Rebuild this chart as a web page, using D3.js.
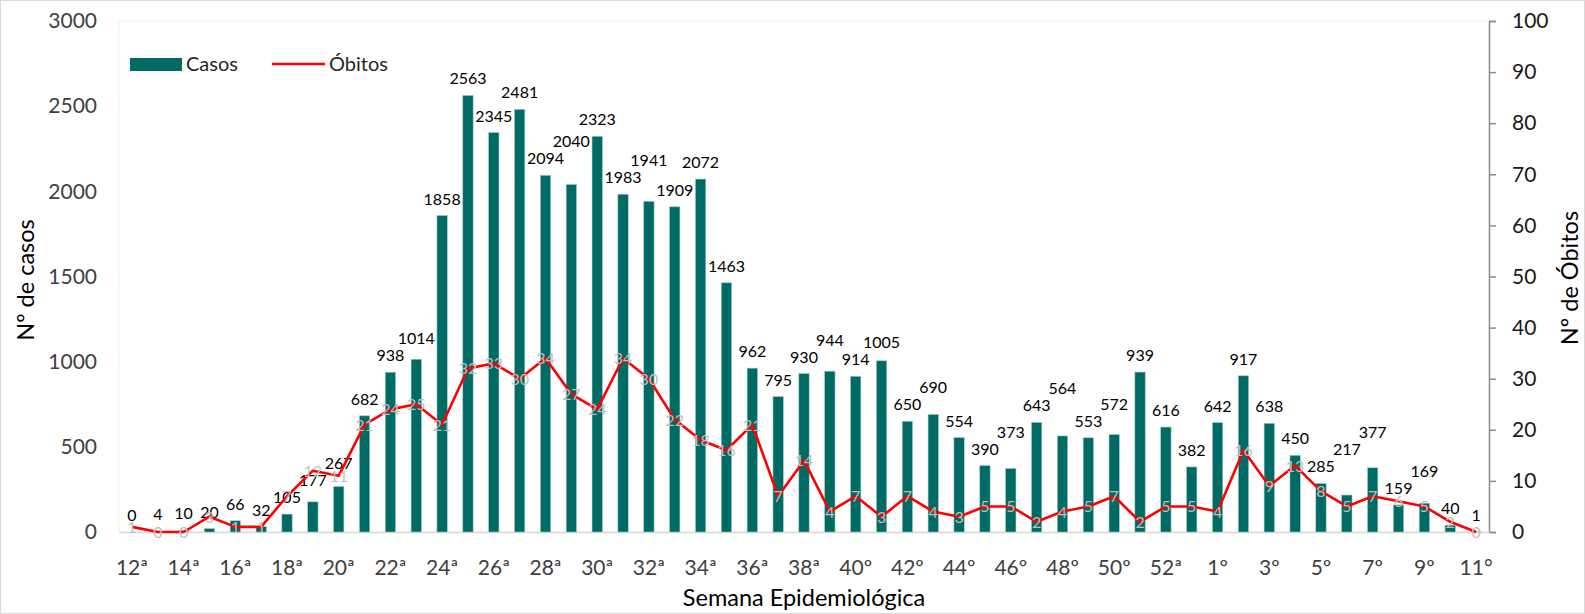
<!DOCTYPE html>
<html>
<head>
<meta charset="utf-8">
<script src="https://cdn.jsdelivr.net/npm/d3@7"></script>
<style>
  body { margin: 0; background: #fff; }
  text { font-family: Lato, "Noto Sans", sans-serif; }
</style>
</head>
<body>
<div id="chartbox"></div>
<script>
const semanas = ['12ª','13ª','14ª','15ª','16ª','17ª','18ª','19ª','20ª','21ª','22ª','23ª','24ª','25ª','26ª','27ª','28ª','29ª','30ª','31ª','32ª','33ª','34ª','35ª','36ª','37ª','38ª','39ª','40º','41º','42º','43º','44º','45º','46º','47º','48º','49º','50º','51º','52ª','53ª','1º','2º','3º','4º','5º','6º','7º','8º','9º','10º','11°']
const casos = [0,4,10,20,66,32,105,177,267,682,938,1014,1858,2563,2345,2481,2094,2040,2323,1983,1941,1909,2072,1463,962,795,930,944,914,1005,650,690,554,390,373,643,564,553,572,939,616,382,642,917,638,450,285,217,377,159,169,40,1]
const obitos = [1,0,0,3,1,1,7,12,11,21,24,25,21,32,33,30,34,27,24,34,30,22,18,16,21,7,14,4,7,3,7,4,3,5,5,2,4,5,7,2,5,5,4,16,9,13,8,5,7,6,5,2,0]
const casosTicks = [0,500,1000,1500,2000,2500,3000]
const obitosTicks = [0,10,20,30,40,50,60,70,80,90,100]

const W = 1585, H = 614
const pLeft = 119, pRight = 1489, pTop = 21, pBottom = 532

const svg = d3.select('#chartbox')
  .append('svg')
  .attr('width', W)
  .attr('height', H)

svg.append('rect')
  .attr('x', 0.5).attr('y', 0.5)
  .attr('width', W - 1).attr('height', H - 1)
  .attr('fill', '#fff')
  .attr('stroke', '#d9d9d9')

// plot area border
svg.append('rect')
  .attr('x', pLeft).attr('y', pTop)
  .attr('width', pRight - pLeft).attr('height', pBottom - pTop)
  .attr('fill', 'none')
  .attr('stroke', '#f0f0f0')

const x = d3.scaleBand()
  .domain(semanas)
  .range([pLeft, pRight])
  .paddingInner(0.6)
  .paddingOuter(0.3)

const y = d3.scaleLinear().domain([0, 3000]).range([pBottom, pTop])
const y2 = d3.scaleLinear().domain([0, 100]).range([pBottom, pTop])

// left axis (labels only)
const yAxis = svg.append('g')
  .attr('transform', 'translate(' + pLeft + ',0)')
  .call(d3.axisLeft(y).tickValues(casosTicks).tickFormat(d3.format('d')).tickSize(0).tickPadding(22))
yAxis.select('.domain').remove()
yAxis.selectAll('text')
  .attr('font-size', 21)
  .attr('fill', '#404040')

// right axis
const y2Axis = svg.append('g')
  .attr('transform', 'translate(' + pRight + ',0)')
  .call(d3.axisRight(y2).tickValues(obitosTicks).tickSize(7).tickPadding(16))
y2Axis.select('.domain').attr('stroke', '#8c8c8c').attr('stroke-width', 1.5)
y2Axis.selectAll('line').attr('stroke', '#8c8c8c').attr('stroke-width', 1.5)
y2Axis.selectAll('text')
  .attr('font-size', 21)
  .attr('fill', '#1a1a1a')
  .attr('text-anchor', 'start')

// bottom axis
const xAxis = svg.append('g')
  .attr('transform', 'translate(0,' + pBottom + ')')
  .call(d3.axisBottom(x)
    .tickValues(semanas.filter((d, i) => i % 2 == 0))
    .tickSize(0).tickPadding(28))
xAxis.select('.domain').attr('stroke', '#d9d9d9').attr('stroke-width', 1.5)
xAxis.selectAll('text')
  .attr('font-size', 21)
  .attr('fill', '#404040')

// bars
svg.append('g')
  .selectAll('rect')
  .data(casos)
  .enter()
  .append('rect')
  .attr('x', (d, i) => x(semanas[i]))
  .attr('y', d => y(d))
  .attr('width', x.bandwidth())
  .attr('height', d => pBottom - y(d))
  .attr('fill', '#006a64')
  .attr('stroke', '#9cc9c5')
  .attr('stroke-width', 0.6)

// bar labels: step a label up when it would collide with its left neighbour
const cx = i => x(semanas[i]) + x.bandwidth() / 2
const labelY = []
casos.forEach((d, i) => {
  let ly = y(d) - 11
  if (i > 0) {
    const gap = x.step()
    const half = (String(d).length + String(casos[i - 1]).length) * 9.3 / 2
    if (half > gap - 2 && Math.abs(ly - labelY[i - 1]) < 16) ly = labelY[i - 1] - 17
  }
  labelY.push(ly)
})

svg.append('g')
  .selectAll('text')
  .data(casos)
  .enter()
  .append('text')
  .attr('x', (d, i) => cx(i))
  .attr('y', (d, i) => labelY[i])
  .attr('text-anchor', 'middle')
  .attr('font-size', 16)
  .attr('fill', '#000')
  .text(d => d)

// deaths line
const line = d3.line()
  .x((d, i) => cx(i))
  .y(d => y2(d))

svg.append('path')
  .datum(obitos)
  .attr('d', line)
  .attr('fill', 'none')
  .attr('stroke', '#ff0000')
  .attr('stroke-width', 2.6)
  .attr('stroke-linejoin', 'round')

svg.append('g')
  .selectAll('text')
  .data(obitos)
  .enter()
  .append('text')
  .attr('x', (d, i) => cx(i))
  .attr('y', d => y2(d) + 6)
  .attr('text-anchor', 'middle')
  .attr('font-size', 16)
  .attr('fill', '#bfbfbf')
  .text(d => d)

// titles
svg.append('text')
  .attr('transform', 'translate(34,280) rotate(-90)')
  .attr('text-anchor', 'middle')
  .attr('font-size', 23.5)
  .attr('fill', '#000')
  .text('Nº de casos')

svg.append('text')
  .attr('transform', 'translate(1578,278) rotate(-90)')
  .attr('text-anchor', 'middle')
  .attr('font-size', 23.5)
  .attr('fill', '#000')
  .text('Nº de Óbitos')

svg.append('text')
  .attr('x', 804)
  .attr('y', 606)
  .attr('text-anchor', 'middle')
  .attr('font-size', 23.5)
  .attr('fill', '#000')
  .text('Semana Epidemiológica')

// legend
const legend = svg.append('g')
legend.append('rect')
  .attr('x', 130).attr('y', 58)
  .attr('width', 52).attr('height', 13)
  .attr('fill', '#006a64')
legend.append('text')
  .attr('x', 186).attr('y', 71)
  .attr('font-size', 20)
  .attr('fill', '#262626')
  .text('Casos')
legend.append('line')
  .attr('x1', 272).attr('x2', 325)
  .attr('y1', 64).attr('y2', 64)
  .attr('stroke', '#ff0000')
  .attr('stroke-width', 2.6)
legend.append('text')
  .attr('x', 329).attr('y', 71)
  .attr('font-size', 20)
  .attr('fill', '#262626')
  .text('Óbitos')
</script>
</body>
</html>
